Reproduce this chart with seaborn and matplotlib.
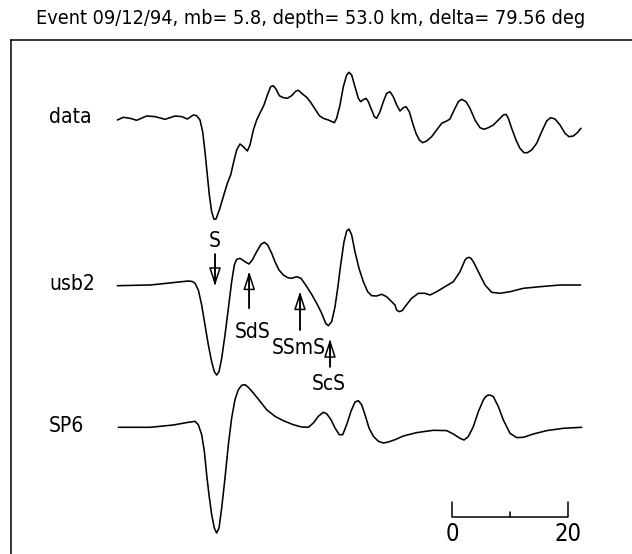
import numpy as np
import pandas as pd
import matplotlib
matplotlib.use("Agg")
import matplotlib.pyplot as plt
from matplotlib import font_manager
import seaborn as sns

# ---- data (time in s, amplitude in arbitrary units) ----
data_t = [0.06, 1.09, 2.24, 3.39, 5.11, 6.55, 8.28, 10.0, 11.15, 12.13, 13.16, 13.74, 14.31, 14.77,
          15.17, 15.57, 15.92, 16.32, 16.72, 17.07, 17.64, 18.33, 19.02, 19.6, 20.06, 20.63, 21.21,
          21.78, 22.47, 22.93, 23.51, 24.08, 24.77, 25.34, 25.92, 26.49, 26.95, 27.41, 27.99, 28.68,
          29.37, 30.11, 30.86, 31.26, 31.84, 32.7, 33.39, 34.14, 34.89, 35.57, 36.44, 37.47, 37.87,
          38.45, 39.02, 39.6, 40.0, 40.46, 41.03, 41.61, 42.01, 42.47, 42.93, 43.33, 43.91, 44.37,
          44.77, 45.34, 45.92, 46.49, 47.07, 47.64, 48.22, 48.79, 49.37, 49.83, 50.4, 50.98, 51.55,
          52.13, 52.7, 53.39, 54.25, 55.11, 55.98, 56.84, 57.41, 57.99, 58.85, 59.43, 60.17, 60.86,
          61.72, 62.59, 63.28, 64.02, 64.89, 65.75, 66.61, 67.07, 67.47, 68.05, 68.79, 69.48, 70.17,
          70.75, 71.49, 72.36, 73.22, 74.08, 74.77, 75.52, 76.38, 77.24, 77.93, 78.68, 79.37, 80.0]
data_a = [-1.7, 1.0, 0.0, -2.0, 2.3, 1.7, -1.0, 2.3, 1.7, -0.7, 3.3, 2.6, -1.7, -13.4,
          -33.4, -56.7, -76.7, -93.4, -101.0, -100.7, -91.7, -78.4, -65.0, -56.7, -45.0, -31.7, -25.7,
          -28.4, -32.7, -26.7, -11.7, -1.7, 6.6, 13.3, 23.3, 31.6, 32.6, 29.3, 22.6, 20.6,
          20.0, 22.6, 27.3, 28.0, 25.0, 21.0, 16.0, 9.3, 2.6, 0.0, -1.7, -4.4, 0.0,
          13.3, 31.6, 43.3, 46.0, 43.3, 31.6, 20.0, 16.6, 18.6, 20.0, 16.6, 8.3, 1.6,
          0.0, 6.6, 16.6, 25.0, 26.6, 21.6, 13.3, 7.3, 10.6, 11.6, 6.6, -5.0, -15.0,
          -21.7, -24.4, -22.7, -18.4, -11.7, -5.0, -2.7, -0.7, 6.6, 16.6, 19.0, 16.6, 10.0,
          -1.7, -9.4, -11.0, -9.4, -6.7, -1.7, 3.3, 4.0, 0.0, -10.0, -21.7, -30.0, -34.4,
          -34.4, -31.7, -25.0, -13.4, -2.7, 0.6, -0.7, -6.7, -15.0, -18.4, -17.7, -14.4, -10.0]

usb2_t = [0.06, 5.69, 8.56, 12.3, 13.0, 13.45, 14.02, 14.6, 15.17, 15.75, 16.32, 16.78, 17.18,
          17.59, 18.05, 18.62, 19.2, 19.77, 20.23, 20.63, 21.21, 22.07, 22.76, 23.33, 24.08, 24.83,
          25.4, 25.98, 26.67, 27.24, 27.93, 28.68, 29.43, 30.11, 30.98, 31.72, 32.53, 33.45, 34.43,
          35.29, 35.98, 36.44, 37.01, 37.59, 38.05, 38.56, 39.14, 39.6, 40.0, 40.46, 41.03, 41.72,
          42.47, 43.22, 43.91, 44.77, 45.63, 46.49, 47.36, 47.93, 48.2, 48.68, 49.2, 49.66, 50.8,
          51.95, 53.1, 53.97, 55.11, 56.55, 57.99, 59.14, 60.0, 60.35, 60.69, 61.05, 61.44, 62.3,
          63.45, 64.6, 66.03, 67.76, 70.06, 72.93, 76.38, 79.94]
usb2_a = [-0.7, 0.0, 1.7, 4.0, 3.5, 1.7, -5.0, -20.0, -40.0, -60.0, -76.7, -86.7, -90.0,
          -86.7, -73.3, -50.0, -23.3, 3.3, 20.0, 25.7, 26.7, 23.3, 21.0, 25.0, 33.3, 40.7,
          42.7, 40.0, 31.7, 23.3, 15.0, 10.0, 7.3, 6.7, 8.3, 6.7, 0.0, -8.3, -18.3,
          -28.3, -38.3, -40.7, -36.7, -21.7, -3.3, 20.0, 43.3, 54.0, 56.0, 50.0, 33.3, 16.7,
          3.3, -6.7, -10.7, -11.0, -9.3, -11.7, -16.7, -20.0, -25.0, -26.7, -25.5, -21.7, -13.3,
          -8.3, -8.3, -10.0, -6.7, -1.7, 3.3, 13.3, 25.0, 27.0, 27.7, 26.5, 23.3, 13.3,
          0.0, -7.3, -8.3, -6.7, -3.3, -1.7, 0.0, 0.0]

sp6_t = [0.23, 5.69, 9.71, 12.0, 13.16, 13.45, 14.02, 14.6, 15.06, 15.46, 15.86, 16.32, 16.78,
         17.18, 17.59, 18.05, 18.62, 19.2, 19.77, 20.34, 20.92, 21.49, 22.07, 22.64, 23.51, 24.66,
         25.8, 27.24, 28.68, 30.4, 31.84, 32.99, 33.85, 34.71, 35.57, 36.15, 36.9, 37.59, 38.33,
         38.91, 39.6, 40.34, 41.03, 41.61, 42.18, 42.76, 43.45, 44.2, 45.06, 45.92, 46.78, 47.93,
         49.37, 51.67, 54.54, 56.84, 57.99, 59.14, 59.83, 60.57, 61.44, 62.3, 63.16, 63.56, 64.02,
         64.43, 64.89, 65.75, 66.61, 67.76, 68.91, 70.06, 71.78, 74.08, 76.95, 80.11]
sp6_a = [0.0, 0.0, 2.3, 4.7, 5.7, 6.0, 2.6, -7.4, -24.0, -47.4, -67.4, -87.4, -100.7,
         -105.7, -100.7, -80.7, -50.7, -17.4, 9.3, 27.6, 37.6, 42.0, 42.6, 40.0, 34.3, 26.0,
         17.6, 11.0, 6.6, 2.6, 0.3, 0.0, 4.3, 11.0, 15.0, 13.6, 7.6, -0.7, -7.4,
         -7.4, 2.6, 16.0, 25.3, 26.6, 22.6, 12.6, -0.7, -9.0, -14.0, -15.7, -14.7, -12.4,
         -8.7, -5.3, -3.0, -3.3, -6.7, -11.0, -12.7, -9.3, 0.7, 15.7, 27.3, 30.7, 32.3,
         32.0, 30.7, 20.7, 7.3, -6.0, -10.3, -10.0, -6.7, -3.3, -1.0, 0.0]

trace_names = ["data", "usb2", "SP6"]
trace_offsets = [435.7, 269.0, 126.7]

phase_names = ["S", "SdS", "SSmS", "ScS"]
phase_times = [16.9, 22.8, 31.55, 36.72]

title = "Event 09/12/94, mb= 5.8, depth= 53.0 km, delta= 79.56 deg"
scale_labels = ["0", "20"]

# ---- build long table ----
frames = []
for name, t, a, off in zip(trace_names, [data_t, usb2_t, sp6_t], [data_a, usb2_a, sp6_a], trace_offsets):
    frames.append(pd.DataFrame({"t": t, "y": np.array(a) + off, "trace": name}))
df = pd.concat(frames, ignore_index=True)

sns.set_style("white")
plt.rcParams["text.color"] = "black"

# ---- choose a narrow font (file based, so the condensed face is really used) ----
narrow_path = None
cands = []
for f in font_manager.fontManager.ttflist:
    nm = f.name.lower()
    fn = f.fname.lower()
    is_narrow = ("narrow" in nm or "condensed" in nm or "narrow" in fn or "condensed" in fn
                 or f.stretch in ("condensed", "semi-condensed", "extra-condensed"))
    if is_narrow and f.style == "normal" and "bold" not in fn and "oblique" not in fn \
            and "italic" not in fn and f.weight in (400, "normal", "regular", "book"):
        score = 0 if "liberation" in fn else (1 if "dejavu" in fn else 2)
        cands.append((score, f.fname))
cands.sort()
if cands:
    narrow_path = cands[0][1]


def fprop(size):
    if narrow_path is not None:
        return font_manager.FontProperties(fname=narrow_path, size=size)
    return font_manager.FontProperties(family=["Roboto", "DejaVu Sans"], weight="light", size=size)


W, H = 632, 554
fig = plt.figure(figsize=(W / 100, H / 100), dpi=100)
ax = fig.add_axes([11 / W, 0, 1 - 11 / W, 1 - 40 / H])

sns.lineplot(data=df, x="t", y="y", units="trace", estimator=None, sort=False,
             color="black", linewidth=1.15, ax=ax, legend=False)

ax.set_xlim((11 - 117) / 5.8, (632 - 117) / 5.8)
ax.set_ylim(0, 514)
for s in ["right", "bottom"]:
    ax.spines[s].set_visible(False)
for s in ["left", "top"]:
    ax.spines[s].set_color("black")
    ax.spines[s].set_linewidth(1.1)
ax.set_xticks([])
ax.set_yticks([])

fs = 15
# trace labels
for name, off in zip(trace_names, trace_offsets):
    ax.text((49 - 117) / 5.8, off + 1, name, ha="left", va="center", fontproperties=fprop(fs))

# phase arrows (open heads, shaft running through the head)
arrow_specs = [  # (tail_y, tip_y)
    (299.7, 268.3),
    (245.7, 282.3),
    (224.0, 262.3),
    (187.3, 214.7),
]
label_pos = [(16.9, 313.0), (23.3, 222.0), (31.4, 206.0), (36.43, 170.0)]
for tt, (y0, y1), lab, (lx, ly) in zip(phase_times, arrow_specs, phase_names, label_pos):
    ax.plot([tt, tt], [y0, y1 - np.sign(y1 - y0) * 2.0], color="black", lw=1.1)
    ax.annotate("", xy=(tt, y1), xytext=(tt, y0),
                arrowprops=dict(arrowstyle="-|>,head_length=1.1,head_width=0.36",
                                fc="none", ec="black", lw=1.1, shrinkA=0, shrinkB=0))
    ax.text(lx, ly, lab, ha="center", va="center", fontproperties=fprop(fs))

# scale bar (20 s)
x0 = (452 - 117) / 5.8
sb = pd.DataFrame({"t": [x0, x0, x0 + 20, x0 + 20], "y": [52.3, 37.3, 37.3, 52.3]})
sns.lineplot(data=sb, x="t", y="y", sort=False, estimator=None, color="black", linewidth=1.1, ax=ax)
ax.plot([x0 + 10, x0 + 10], [37.3, 42.3], color="black", lw=1.1)
ax.text(x0, 20, scale_labels[0], ha="center", va="center", fontproperties=fprop(17))
ax.text(x0 + 20, 20, scale_labels[1], ha="center", va="center", fontproperties=fprop(17))
ax.set_xlabel("")
ax.set_ylabel("")

fig.text(311 / W, 1 - 19 / H, title, ha="center", va="center", fontproperties=fprop(14.2))

fig.savefig("out.png", dpi=100)
